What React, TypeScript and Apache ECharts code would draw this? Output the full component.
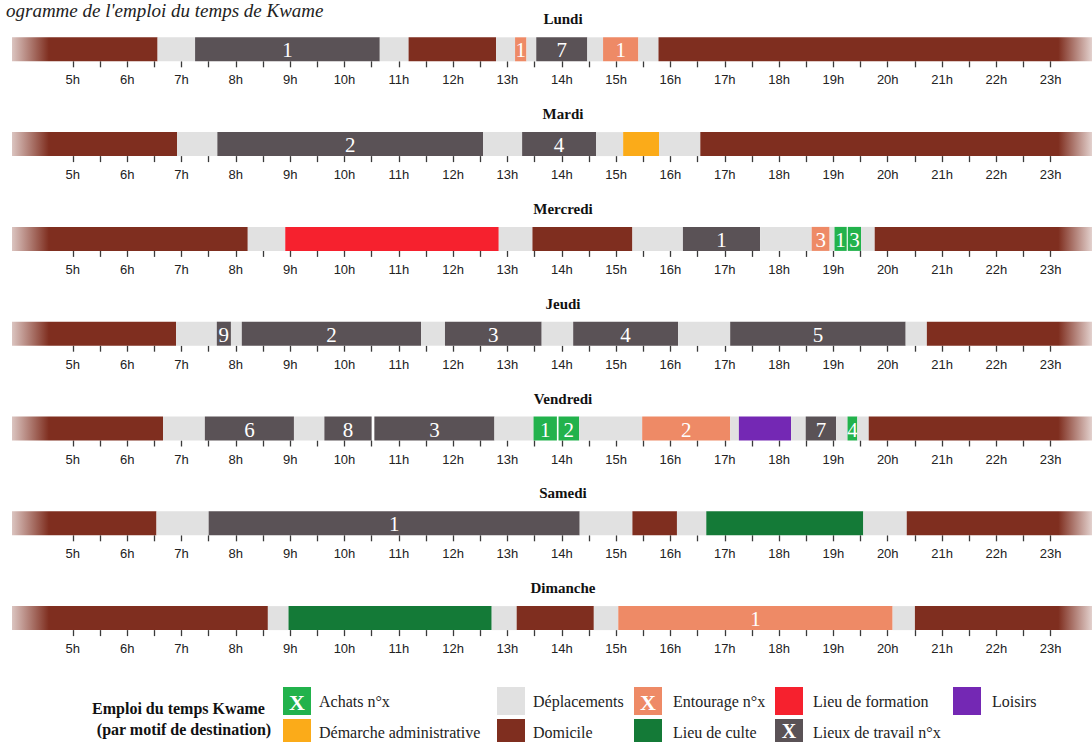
import React, { useEffect, useRef } from "react";
import * as echarts from "echarts";

// ---------- data ----------
const DAYS = ["Lundi", "Mardi", "Mercredi", "Jeudi", "Vendredi", "Samedi", "Dimanche"];

const X_MIN = 3.88;
const X_MAX = 23.76;

const HOUR_LABELS = [5, 6, 7, 8, 9, 10, 11, 12, 13, 14, 15, 16, 17, 18, 19, 20, 21, 22, 23];
const TICK_VALUES = [
  5, 5.5, 6, 6.5, 7, 7.5, 8, 8.5, 9, 9.5, 10, 10.5, 11, 11.5, 12, 12.5, 13, 13.5, 14, 14.5,
  15, 15.5, 16, 16.5, 17, 17.5, 18, 18.5, 19, 19.5, 20, 20.5, 21, 21.5, 22, 22.5, 23,
];

// category keys and their legend names
const CATEGORY_NAMES: Record<string, string> = {
  ach: "Achats n°x",
  adm: "Démarche administrative",
  dep: "Déplacements",
  dom: "Domicile",
  ent: "Entourage n°x",
  form: "Lieu de formation",
  cult: "Lieu de culte",
  trav: "Lieux de travail n°x",
  lois: "Loisirs",
};

type Seg = [number, number, string, string?];

const lundi: Seg[] = [
  [3.88, 6.56, "dom"], [6.56, 7.25, "dep"], [7.25, 10.65, "trav", "1"], [10.65, 11.18, "dep"],
  [11.18, 12.79, "dom"], [12.79, 13.14, "dep"], [13.14, 13.35, "ent", "1"], [13.35, 13.53, "dep"],
  [13.53, 14.47, "trav", "7"], [14.47, 14.76, "dep"], [14.76, 15.41, "ent", "1"], [15.41, 15.78, "dep"],
  [15.78, 23.76, "dom"],
];
const mardi: Seg[] = [
  [3.88, 6.92, "dom"], [6.92, 7.66, "dep"], [7.66, 12.55, "trav", "2"], [12.55, 13.27, "dep"],
  [13.27, 14.63, "trav", "4"], [14.63, 15.13, "dep"], [15.13, 15.79, "adm"], [15.79, 16.55, "dep"],
  [16.55, 23.76, "dom"],
];
const mercredi: Seg[] = [
  [3.88, 8.22, "dom"], [8.22, 8.91, "dep"], [8.91, 12.84, "form"], [12.84, 13.46, "dep"],
  [13.46, 15.3, "dom"], [15.3, 16.23, "dep"], [16.23, 17.65, "trav", "1"], [17.65, 18.6, "dep"],
  [18.6, 18.93, "ent", "3"], [18.93, 19.02, "dep"], [19.02, 19.245, "ach", "1"], [19.265, 19.51, "ach", "3"],
  [19.51, 19.76, "dep"], [19.76, 23.76, "dom"],
];
const jeudi: Seg[] = [
  [3.88, 6.9, "dom"], [6.9, 7.65, "dep"], [7.65, 7.91, "trav", "9"], [7.91, 8.11, "dep"],
  [8.11, 11.41, "trav", "2"], [11.41, 11.85, "dep"], [11.85, 13.63, "trav", "3"], [13.63, 14.21, "dep"],
  [14.21, 16.14, "trav", "4"], [16.14, 17.1, "dep"], [17.1, 20.33, "trav", "5"], [20.33, 20.72, "dep"],
  [20.72, 23.76, "dom"],
];
const vendredi: Seg[] = [
  [3.88, 6.66, "dom"], [6.66, 7.43, "dep"], [7.43, 9.07, "trav", "6"], [9.07, 9.63, "dep"],
  [9.63, 10.5, "trav", "8"], [10.55, 12.76, "trav", "3"], [12.76, 13.48, "dep"], [13.48, 13.91, "ach", "1"],
  [13.94, 14.32, "ach", "2"], [14.32, 15.48, "dep"], [15.48, 17.1, "ent", "2"], [17.1, 17.26, "dep"],
  [17.26, 18.22, "lois"], [18.22, 18.49, "dep"], [18.49, 19.05, "trav", "7"], [19.05, 19.26, "dep"],
  [19.26, 19.44, "ach", "4"], [19.44, 19.65, "dep"], [19.65, 23.76, "dom"],
];
const samedi: Seg[] = [
  [3.88, 6.54, "dom"], [6.54, 7.5, "dep"], [7.5, 14.33, "trav", "1"], [14.33, 15.3, "dep"],
  [15.3, 16.12, "dom"], [16.12, 16.66, "dep"], [16.66, 19.55, "cult"], [19.55, 20.35, "dep"],
  [20.35, 23.76, "dom"],
];
const dimanche: Seg[] = [
  [3.88, 8.59, "dom"], [8.59, 8.97, "dep"], [8.97, 12.71, "cult"], [12.71, 13.17, "dep"],
  [13.17, 14.59, "dom"], [14.59, 15.04, "dep"], [15.04, 20.09, "ent", "1"], [20.09, 20.5, "dep"],
  [20.5, 23.76, "dom"],
];

const SCHEDULE = [lundi, mardi, mercredi, jeudi, vendredi, samedi, dimanche];

// legend layout order
const LEGEND_ROW1 = ["ach", "dep", "ent", "form", "lois"];
const LEGEND_ROW2 = ["adm", "dom", "cult", "trav"];
const NUMBERED = ["ach", "ent", "trav"];

// ---------- styles ----------
const COLORS: Record<string, string> = {
  ach: "#22b24c",
  adm: "#fbab19",
  dep: "#e1e1e1",
  dom: "#7f2e1f",
  ent: "#ee8a66",
  form: "#f6212e",
  cult: "#147a37",
  trav: "#5a5256",
  lois: "#7428b4",
};

const SERIF = '"Liberation Serif", "DejaVu Serif", serif';
const SANS = '"Liberation Sans", Arial, sans-serif';

const BAR_TOP0 = 37.3;
const ROW_STEP = 94.8;
const BAR_H = 24;
const FADE_LEFT_H = 0.68;
const FADE_RIGHT_H = 0.62;

export default function App() {
  const ref = useRef<HTMLDivElement>(null);

  useEffect(() => {
    document.body.style.margin = "0";
    if (!ref.current) return;
    const chart = echarts.init(ref.current, null, { renderer: "svg" });

    const grids: any[] = [];
    const xAxes: any[] = [];
    const yAxes: any[] = [];
    const series: any[] = [];
    const graphics: any[] = [];

    SCHEDULE.forEach((segs, i) => {
      const top = BAR_TOP0 + ROW_STEP * i;
      grids.push({ left: 12, right: 0, top, height: BAR_H });
      xAxes.push({
        gridIndex: i,
        type: "value",
        min: X_MIN,
        max: X_MAX,
        offset: 3,
        axisLine: { show: false },
        splitLine: { show: false },
        axisTick: {
          show: true,
          customValues: TICK_VALUES,
          length: 6,
          lineStyle: { color: "#3a3a3a", width: 1.3 },
        },
        axisLabel: {
          show: true,
          customValues: HOUR_LABELS,
          formatter: (v: number) => `${v}h`,
          margin: 9,
          fontSize: 13,
          fontFamily: SANS,
          color: "#222",
        },
      });
      yAxes.push({ gridIndex: i, type: "value", min: 0, max: 1, show: false });

      series.push({
        type: "custom",
        xAxisIndex: i,
        yAxisIndex: i,
        coordinateSystem: "cartesian2d",
        data: segs.map((s) => [s[0], s[1]]),
        encode: { x: [0, 1] },
        renderItem: (params: any, api: any) => {
          const seg = segs[params.dataIndex];
          const cs = params.coordSys;
          const x0 = api.coord([seg[0], 0])[0];
          const x1 = api.coord([seg[1], 0])[0];
          const w = x1 - x0;
          const base = COLORS[seg[2]];
          let fill: any = base;
          if (seg[2] === "dom" && seg[0] === X_MIN) {
            const fx = api.coord([X_MIN + FADE_LEFT_H, 0])[0] - x0;
            fill = new echarts.graphic.LinearGradient(0, 0, 1, 0, [
              { offset: 0, color: "rgba(127,46,31,0.28)" },
              { offset: Math.min(1, fx / w), color: base },
              { offset: 1, color: base },
            ]);
          } else if (seg[2] === "dom" && seg[1] === X_MAX) {
            const fx = x1 - api.coord([X_MAX - FADE_RIGHT_H, 0])[0];
            fill = new echarts.graphic.LinearGradient(0, 0, 1, 0, [
              { offset: 0, color: base },
              { offset: Math.max(0, 1 - fx / w), color: base },
              { offset: 1, color: "rgba(127,46,31,0.22)" },
            ]);
          }
          const children: any[] = [
            {
              type: "rect",
              shape: { x: x0, y: cs.y, width: w, height: cs.height },
              style: { fill },
            },
          ];
          if (seg[3]) {
            children.push({
              type: "text",
              style: {
                text: seg[3],
                x: x0 + w / 2,
                y: cs.y + cs.height / 2 + 1,
                align: "center",
                verticalAlign: "middle",
                fill: "#ffffff",
                font: `21px ${SERIF}`,
              },
            });
          }
          return { type: "group", children };
        },
      });

      graphics.push({
        type: "text",
        x: 563,
        y: top - 18,
        style: {
          text: DAYS[i],
          align: "center",
          verticalAlign: "middle",
          font: `bold 15px ${SERIF}`,
          fill: "#111",
        },
      });
    });

    // title (cropped in the reference; kept fully visible here)
    graphics.push({
      type: "text",
      x: 6,
      y: 10.5,
      style: {
        text: "ogramme de l'emploi du temps de Kwame",
        align: "left",
        verticalAlign: "middle",
        font: `italic 19px ${SERIF}`,
        fill: "#222",
      },
    });

    // legend
    graphics.push({
      type: "text",
      x: 178.5,
      y: 708,
      style: { text: "Emploi du temps Kwame", align: "center", verticalAlign: "middle", font: `bold 16px ${SERIF}`, fill: "#111" },
    });
    graphics.push({
      type: "text",
      x: 184,
      y: 729,
      style: { text: "(par motif de destination)", align: "center", verticalAlign: "middle", font: `bold 16px ${SERIF}`, fill: "#111" },
    });
    const COL_SWATCH_X = [283, 497, 634, 775, 953];
    const COL_LABEL_X = [319, 533, 673, 813, 992];
    const ROW_Y = [687, 719];
    [LEGEND_ROW1, LEGEND_ROW2].forEach((row, r) => {
      row.forEach((key, c) => {
        const sx = COL_SWATCH_X[c];
        const sy = ROW_Y[r];
        graphics.push({
          type: "rect",
          shape: { x: sx, y: sy, width: 28, height: r === 0 ? 28 : 742 - sy },
          style: { fill: COLORS[key] },
        });
        if (NUMBERED.includes(key)) {
          graphics.push({
            type: "text",
            x: sx + 14,
            y: r === 0 ? sy + 15 : 731,
            style: { text: "X", align: "center", verticalAlign: "middle", font: `bold ${r === 0 ? 22 : 20}px ${SERIF}`, fill: "#fff" },
          });
        }
        graphics.push({
          type: "text",
          x: COL_LABEL_X[c],
          y: r === 0 ? 701 : 732,
          style: {
            text: CATEGORY_NAMES[key],
            align: "left",
            verticalAlign: "middle",
            font: `16px ${SERIF}`,
            fill: "#222",
          },
        });
      });
    });

    chart.setOption({
      animation: false,
      backgroundColor: "#ffffff",
      grid: grids,
      xAxis: xAxes,
      yAxis: yAxes,
      series,
      graphic: graphics,
    });

    return () => chart.dispose();
  }, []);

  return <div ref={ref} style={{ width: 1092, height: 742 }} />;
}
